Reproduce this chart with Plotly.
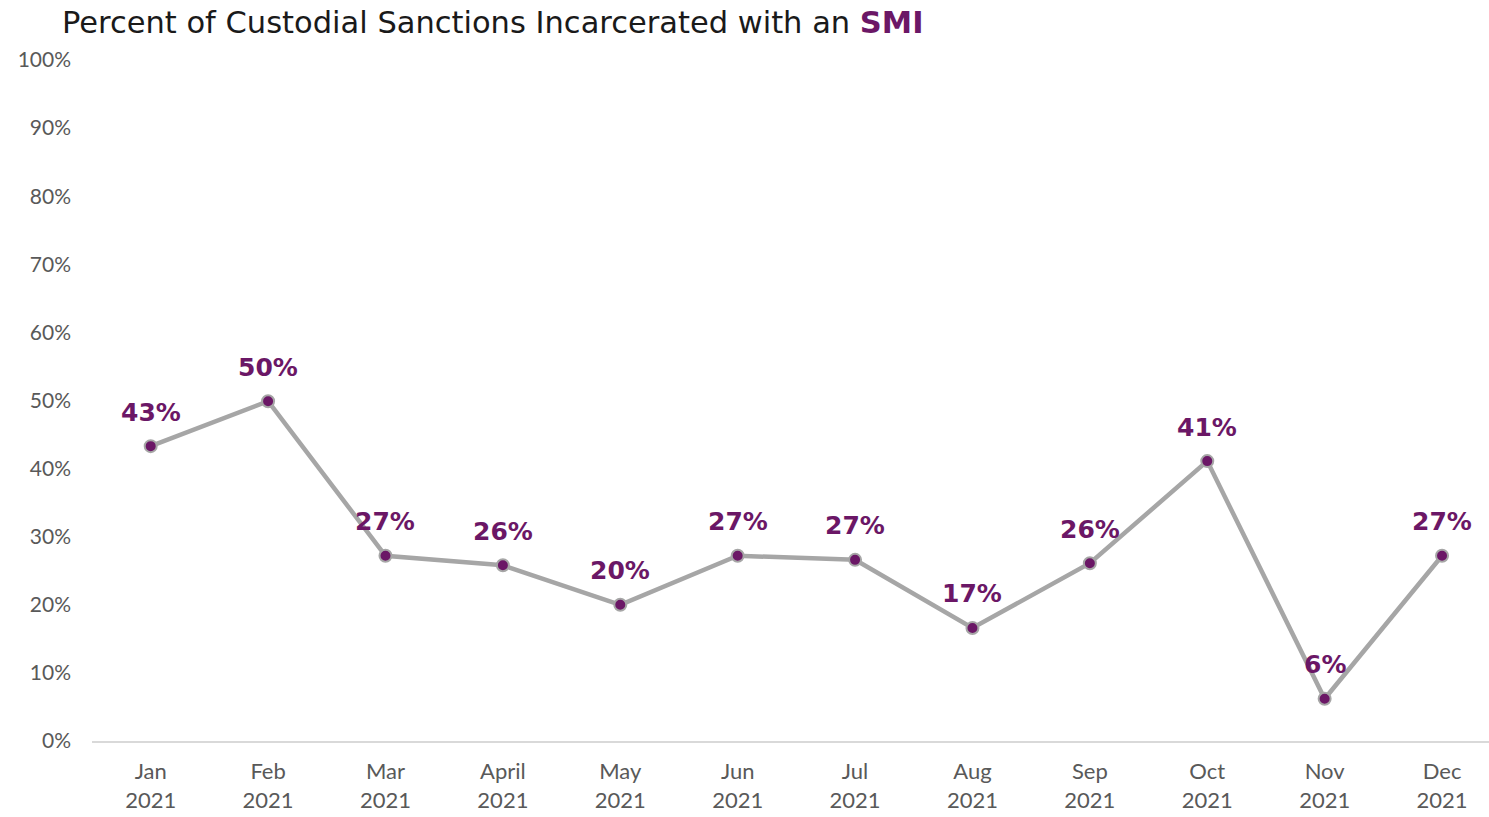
import plotly.graph_objects as go

months = ["Jan", "Feb", "Mar", "April", "May", "Jun", "Jul", "Aug", "Sep", "Oct", "Nov", "Dec"]
year = "2021"
pct_smi = [43.3, 49.9, 27.2, 25.8, 20.0, 27.2, 26.6, 16.6, 26.1, 41.1, 6.2, 27.2]
y_ticks = [0, 10, 20, 30, 40, 50, 60, 70, 80, 90, 100]

PURPLE = "#6B1766"
LINE_GREY = "#A6A6A6"
TICK_GREY = "#595959"
FONT = "Lato, 'DejaVu Sans', sans-serif"
WIDE_FONT = "'DejaVu Sans', sans-serif"

categories = [f"{m}<br>{year}" for m in months]

fig = go.Figure()
fig.add_trace(go.Scatter(
    x=categories,
    y=pct_smi,
    mode="lines+markers",
    line=dict(color=LINE_GREY, width=4.5),
    marker=dict(color=PURPLE, size=12, line=dict(color=LINE_GREY, width=2)),
    cliponaxis=False,
    hoverinfo="skip",
))

# value labels above each point
value_labels = [
    dict(
        x=c, y=v, xref="x", yref="y",
        text=f"{v:.0f}%",
        showarrow=False,
        yshift=34,
        font=dict(family=WIDE_FONT, size=25, color=PURPLE, weight="bold"),
    )
    for c, v in zip(categories, pct_smi)
]

title = dict(
    text=f"Percent of Custodial Sanctions Incarcerated with an <b><span style='color:{PURPLE}'>SMI</span></b>",
    xref="paper", yref="paper",
    x=-32 / 1397, y=1 + 38 / 681,
    xanchor="left", yanchor="middle",
    showarrow=False,
    font=dict(family=WIDE_FONT, size=30.5, color="#1A1A1A"),
)

fig.update_layout(
    width=1489,
    height=817,
    margin=dict(l=92, r=0, t=60, b=76),
    paper_bgcolor="white",
    plot_bgcolor="white",
    showlegend=False,
    font=dict(family=FONT, color=TICK_GREY),
    xaxis=dict(
        type="category",
        range=[-0.5, 11.4],
        showgrid=False,
        showline=True,
        linecolor="#D9D9D9",
        linewidth=2,
        ticks="",
        ticklabelstandoff=10,
        tickfont=dict(size=22, color=TICK_GREY),
    ),
    yaxis=dict(
        range=[0, 100],
        tickvals=y_ticks,
        ticktext=[f"{v}%" for v in y_ticks],
        showgrid=False,
        zeroline=False,
        showline=False,
        ticks="",
        ticklabelstandoff=20,
        tickfont=dict(size=21, color=TICK_GREY),
    ),
    annotations=value_labels + [title],
)

fig.write_html("out.html")
